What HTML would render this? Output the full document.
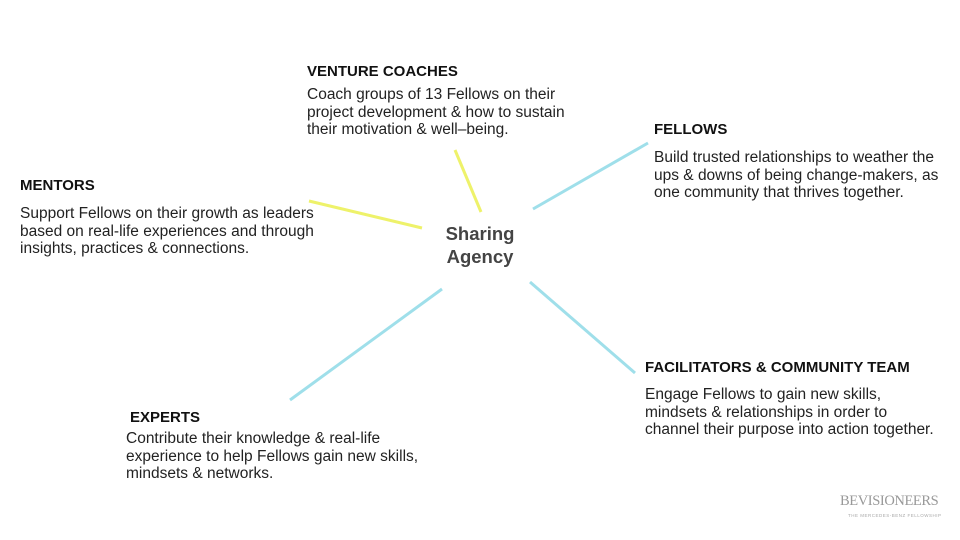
<!DOCTYPE html>
<html><head><meta charset="utf-8"><style>
body{margin:0;width:960px;height:540px;background:#fff;position:relative;overflow:hidden;font-family:"Liberation Sans",sans-serif;color:#222}
.h{position:absolute;font-weight:bold;font-size:15px;color:#111}
.t{position:absolute;font-size:15.5px;line-height:17.6px;color:#222;white-space:nowrap}
</style></head><body>
<svg width="960" height="540" style="position:absolute;left:0;top:0">
<g stroke-width="3" stroke-linecap="butt">
<line x1="455" y1="150" x2="481" y2="212" stroke="#eef26a"/>
<line x1="309" y1="201" x2="422" y2="228" stroke="#eef26a"/>
<line x1="533" y1="209" x2="648" y2="143" stroke="#9fdfea"/>
<line x1="290" y1="400" x2="442" y2="289" stroke="#9fdfea"/>
<line x1="530" y1="282" x2="635" y2="373" stroke="#9fdfea"/>
</g></svg>
<div class="h" style="left:307px;top:63px">VENTURE COACHES</div>
<div class="t" style="left:307px;top:86px">Coach groups of 13 Fellows on their<br>project development &amp; how to sustain<br>their motivation &amp; well–being.</div>
<div class="h" style="left:654px;top:121px">FELLOWS</div>
<div class="t" style="left:654px;top:149px">Build trusted relationships to weather the<br>ups &amp; downs of being change-makers, as<br>one community that thrives together.</div>
<div class="h" style="left:20px;top:177px">MENTORS</div>
<div class="t" style="left:20px;top:205px">Support Fellows on their growth as leaders<br>based on real-life experiences and through<br>insights, practices &amp; connections.</div>
<div style="position:absolute;left:420px;top:222px;width:120px;text-align:center;font-size:18.5px;line-height:23px;color:#444;font-weight:bold">Sharing<br>Agency</div>
<div class="h" style="left:645px;top:359px">FACILITATORS &amp; COMMUNITY TEAM</div>
<div class="t" style="left:645px;top:386px">Engage Fellows to gain new skills,<br>mindsets &amp; relationships in order to<br>channel their purpose into action together.</div>
<div class="h" style="left:130px;top:409px">EXPERTS</div>
<div class="t" style="left:126px;top:430px">Contribute their knowledge &amp; real-life<br>experience to help Fellows gain new skills,<br>mindsets &amp; networks.</div>
<div style="position:absolute;left:840px;top:493px;font-family:'Liberation Serif',serif;font-size:14.5px;color:#999;letter-spacing:-0.4px">BEVISIONEERS</div>
<div style="position:absolute;left:848px;top:513px;font-size:4.5px;color:#aaa;letter-spacing:0.5px">THE MERCEDES-BENZ FELLOWSHIP</div>
</body></html>
